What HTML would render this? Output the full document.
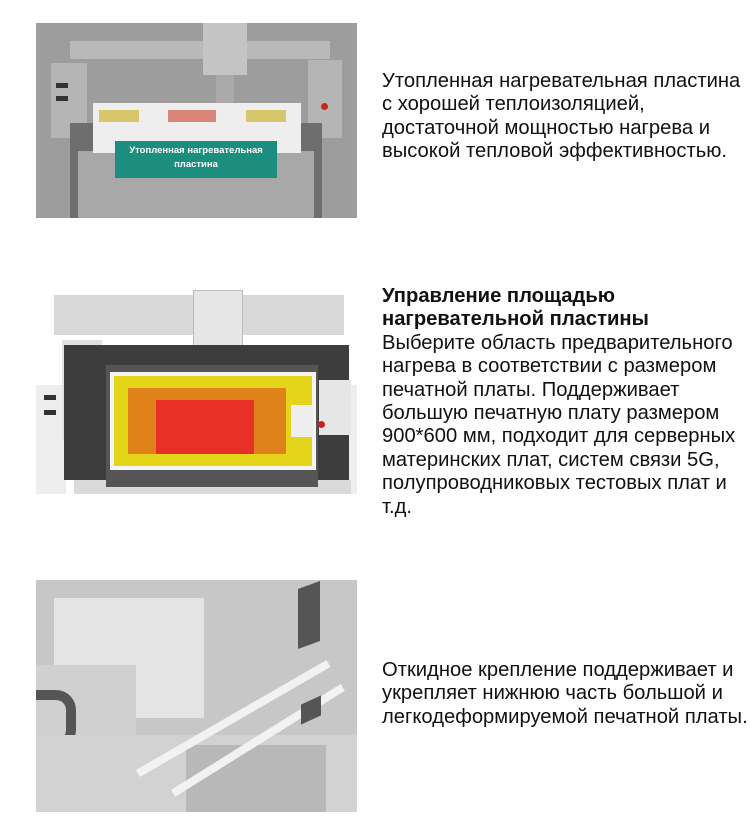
<!DOCTYPE html>
<html><head><meta charset="utf-8"><style>
body{margin:0;width:750px;height:837px;background:#fff;position:relative;overflow:hidden;font-family:"Liberation Sans","Noto Sans CJK SC",sans-serif}
.a{position:absolute}
.t{position:absolute;left:382px;font-size:20.2px;line-height:23.4px;color:#111;white-space:nowrap}
</style></head><body>
<!-- image 1 -->
<div class="a" style="left:36px;top:23px;width:321px;height:195px;background:#9d9d9d;overflow:hidden">
 <div class="a" style="left:34px;top:18px;width:260px;height:18px;background:#b9b9b9"></div>
 <div class="a" style="left:167px;top:0;width:44px;height:52px;background:#c4c4c4"></div>
 <div class="a" style="left:180px;top:52px;width:18px;height:28px;background:#aaa"></div>
 <div class="a" style="left:15px;top:40px;width:36px;height:75px;background:#b5b5b5"></div>
 <div class="a" style="left:20px;top:60px;width:12px;height:5px;background:#333"></div>
 <div class="a" style="left:20px;top:73px;width:12px;height:5px;background:#333"></div>
 <div class="a" style="left:272px;top:37px;width:34px;height:78px;background:#b5b5b5"></div>
 <div class="a" style="left:285px;top:80px;width:7px;height:7px;border-radius:50%;background:#c22"></div>
 <div class="a" style="left:34px;top:100px;width:252px;height:95px;background:#6e6e6e"></div>
 <div class="a" style="left:42px;top:128px;width:236px;height:67px;background:#a8a8a8"></div>
 <div class="a" style="left:57px;top:80px;width:208px;height:50px;background:#eee"></div>
 <div class="a" style="left:63px;top:87px;width:40px;height:12px;background:#d8c66a"></div>
 <div class="a" style="left:132px;top:87px;width:48px;height:12px;background:#d9857a"></div>
 <div class="a" style="left:210px;top:87px;width:40px;height:12px;background:#d8c66a"></div>
 <div class="a" style="left:79px;top:118px;width:162px;height:37px;background:#1b8e80;color:#fff;font-size:9.5px;font-weight:bold;text-align:center;line-height:14px;padding-top:3px;box-sizing:border-box">Утопленная нагревательная<br>пластина</div>
</div>
<div class="t" style="top:70px">Утопленная нагревательная пластина<br>с хорошей теплоизоляцией,<br>достаточной мощностью нагрева и<br>высокой тепловой эффективностью.</div>
<!-- image 2 -->
<div class="a" style="left:36px;top:290px;width:321px;height:204px;overflow:hidden">
 <div class="a" style="left:18px;top:5px;width:290px;height:40px;background:#d8d8d8"></div>
 <div class="a" style="left:157px;top:0;width:48px;height:70px;background:#e6e6e6;border:1px solid #bbb"></div>
 <div class="a" style="left:0px;top:95px;width:30px;height:109px;background:#eee"></div>
 <div class="a" style="left:295px;top:95px;width:26px;height:109px;background:#eee"></div>
 <div class="a" style="left:26px;top:50px;width:40px;height:100px;background:#e2e2e2"></div>
 <div class="a" style="left:8px;top:105px;width:12px;height:5px;background:#333"></div>
 <div class="a" style="left:8px;top:120px;width:12px;height:5px;background:#333"></div>
 <div class="a" style="left:28px;top:55px;width:285px;height:135px;background:#3d3d3d"></div>
 <div class="a" style="left:38px;top:190px;width:277px;height:14px;background:#dadada"></div>
 <div class="a" style="left:70px;top:75px;width:212px;height:122px;background:#555"></div>
 <div class="a" style="left:74px;top:82px;width:206px;height:98px;background:#f4f4f4"></div>
 <div class="a" style="left:78px;top:86px;width:198px;height:90px;background:#e4d41a"></div>
 <div class="a" style="left:92px;top:98px;width:158px;height:66px;background:#e0821a"></div>
 <div class="a" style="left:120px;top:110px;width:98px;height:54px;background:#e73028"></div>
 <div class="a" style="left:255px;top:115px;width:22px;height:32px;background:#eee"></div>
 <div class="a" style="left:283px;top:90px;width:32px;height:55px;background:#e6e6e6"></div>
 <div class="a" style="left:282px;top:131px;width:7px;height:7px;border-radius:50%;background:#c22"></div>
</div>
<div class="t" style="top:285px"><b>Управление площадью<br>нагревательной пластины</b><br>Выберите область предварительного<br>нагрева в соответствии с размером<br>печатной платы. Поддерживает<br>большую печатную плату размером<br>900*600 мм, подходит для серверных<br>материнских плат, систем связи 5G,<br>полупроводниковых тестовых плат и<br>т.д.</div>
<!-- image 3 -->
<div class="a" style="left:36px;top:580px;width:321px;height:232px;background:#c7c7c7;overflow:hidden">
 <div class="a" style="left:18px;top:18px;width:150px;height:120px;background:#e4e4e4"></div>
 <div class="a" style="left:0px;top:85px;width:100px;height:70px;background:#d0d0d0"></div>
 <div class="a" style="left:0px;top:110px;width:30px;height:40px;border-radius:0 20px 20px 0;border:10px solid #555;border-left:none"></div>
 <div class="a" style="left:0px;top:155px;width:321px;height:77px;background:#d2d2d2"></div>
 <div class="a" style="left:150px;top:165px;width:140px;height:67px;background:#b8b8b8"></div>
 <div class="a" style="left:262px;top:5px;width:22px;height:60px;background:#555;transform:skewY(-20deg)"></div>
 <div class="a" style="left:100px;top:190px;width:220px;height:8px;background:#f2f2f2;transform:rotate(-30deg);transform-origin:0 0"></div>
 <div class="a" style="left:135px;top:210px;width:200px;height:8px;background:#f2f2f2;transform:rotate(-32deg);transform-origin:0 0"></div>
 <div class="a" style="left:265px;top:120px;width:20px;height:20px;background:#555;transform:skewY(-25deg)"></div>
</div>
<div class="t" style="top:659px">Откидное крепление поддерживает и<br>укрепляет нижнюю часть большой и<br>легкодеформируемой печатной платы.</div>
</body></html>
